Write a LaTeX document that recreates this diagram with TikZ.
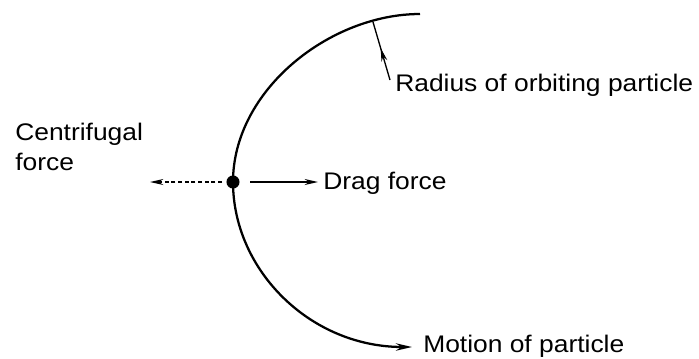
\documentclass[tikz,border=0pt]{standalone}
\usepackage{fontspec}
\setmainfont{Liberation Sans}[FakeStretch=1.1]
\usetikzlibrary{arrows.meta,decorations.markings}
\begin{document}
\begin{tikzpicture}[x=0.75pt,y=-0.75pt,
  lbl/.style={inner sep=0pt,anchor=base west,font=\fontsize{18}{22.5}\selectfont},
  orbit/.style={line width=1.7pt},
  force/.style={line width=1pt,-{Stealth[length=10pt,width=4.5pt]}},
  leader/.style={line width=1pt,postaction={decorate},
    decoration={markings,mark=at position 0.55 with {\arrow{Stealth[length=10pt,width=4.5pt]}}}}]
\useasboundingbox (0,0) rectangle (699,358);
% orbit curve
\coordinate (top) at (420,14);
\coordinate (p) at (233,182);
\coordinate (bot) at (412,347);
\draw[orbit] (top) .. controls (330,14) and (233,90) .. (p);
\draw[orbit,-{Stealth[length=12pt,width=5.5pt]}] (p) .. controls (233,270) and (310,347) .. (bot);
% particle
\fill (p) circle[radius=4.9pt];
% labels
\node[lbl,align=left] (cf) at (15,170) {Centrifugal\\force};
\node[lbl] (drag) at (323,189) {Drag force};
\node[lbl] (rad) at (395,91) {Radius of orbiting particle};
\node[lbl] (mot) at (423,352) {Motion of particle};
% forces
\coordinate (cl) at (222,182);
\coordinate (ctip) at (150,182);
\coordinate (dl) at (250,182);
\coordinate (dtip) at (318,182);
\draw[force,densely dashed] (cl) -- (ctip);
\draw[force] (dl) -- (dtip);
% radius leader
\coordinate (lb) at (390,80);
\coordinate (lt) at (373,22);
\draw[leader] (lb) -- (lt);
\end{tikzpicture}
\end{document}
